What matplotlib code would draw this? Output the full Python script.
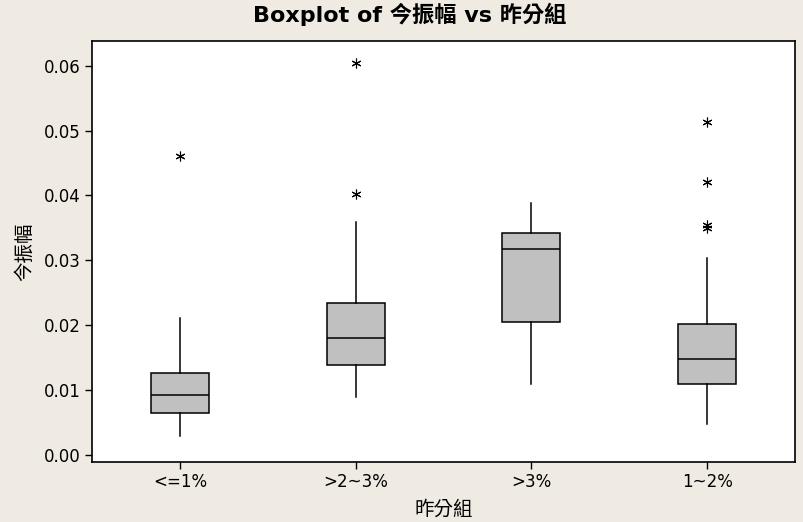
import matplotlib
matplotlib.use("Agg")
import matplotlib.pyplot as plt

plt.rcParams['font.family'] = ['DejaVu Sans', 'Noto Sans CJK TC']

categories = ['<=1%', '>2~3%', '>3%', '1~2%']
whislo = [0.0030, 0.0090, 0.0109, 0.0047]
q1 = [0.0064, 0.0139, 0.0205, 0.0109]
med = [0.0092, 0.0180, 0.0317, 0.0148]
q3 = [0.0126, 0.0234, 0.0342, 0.0202]
whishi = [0.0211, 0.0359, 0.0388, 0.0303]
outliers = [[0.0461], [0.0402, 0.0604], [], [0.0350, 0.0354, 0.0421, 0.0513]]
yticks = [0.00, 0.01, 0.02, 0.03, 0.04, 0.05, 0.06]

bg = '#EFEBE2'
fig = plt.figure(figsize=(8.04, 5.22), dpi=100, facecolor=bg)
ax = fig.add_axes([92/804, 1-462/522, (795-92)/804, (462-41)/522])
ax.set_facecolor('white')

stats = []
for i, c in enumerate(categories):
    stats.append(dict(label=c, whislo=whislo[i], q1=q1[i], med=med[i],
                      q3=q3[i], whishi=whishi[i], fliers=outliers[i]))

ax.bxp(stats, positions=range(1, len(categories)+1), widths=0.33,
       patch_artist=True, showcaps=False,
       boxprops=dict(facecolor='#C0C0C0', edgecolor='black', linewidth=1.1),
       medianprops=dict(color='black', linewidth=1.1),
       whiskerprops=dict(color='black', linewidth=1.1),
       flierprops=dict(marker=(6, 2, 0), markersize=7, markeredgecolor='black',
                       markerfacecolor='black', markeredgewidth=0.8, linestyle='none'))

ax.set_xlim(0.5, 4.5)
ax.set_ylim(-0.00108, 0.0638)
ax.set_yticks(yticks)
ax.set_yticklabels([f'{t:.2f}' for t in yticks])
ax.tick_params(axis='both', direction='out', length=5, width=1, labelsize=12,
               colors='black', pad=3)
for s in ax.spines.values():
    s.set_linewidth(1.2)

ax.set_xlabel('昨分組', fontsize=14, labelpad=6)
ax.set_ylabel('今振幅', fontsize=14, labelpad=7)

fig.text(410/804, 1 - 14/522, 'Boxplot of 今振幅 vs 昨分組', ha='center', va='center',
         fontsize=16, fontweight='bold')

fig.savefig('out.png', dpi=100, facecolor=bg)
